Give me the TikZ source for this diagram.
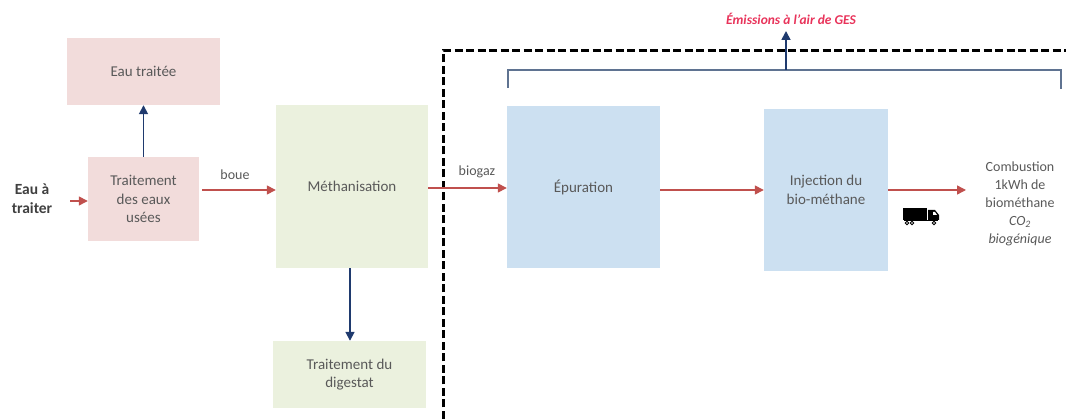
\documentclass[tikz,border=0pt]{standalone}
\usepackage{fontspec}
\setmainfont{Carlito}
\usetikzlibrary{arrows.meta}
\definecolor{pinkfill}{HTML}{F2DCDB}
\definecolor{greenfill}{HTML}{EBF1DE}
\definecolor{bluefill}{HTML}{CCE0F1}
\definecolor{redarrow}{HTML}{C0504D}
\definecolor{navyarrow}{HTML}{1F3A6E}
\definecolor{txtgray}{HTML}{595959}
\definecolor{brackcol}{HTML}{5F7391}
\definecolor{emiscol}{HTML}{E8335A}
\tikzset{
  box/.style={inner sep=0pt, align=center, text=txtgray, font=\fontsize{15}{18.5}\selectfont},
  pinkbox/.style={box, fill=pinkfill},
  greenbox/.style={box, fill=greenfill},
  bluebox/.style={box, fill=bluefill},
  lbl/.style={inner sep=0pt, align=center, text=txtgray, font=\fontsize{14}{18}\selectfont},
  redarr/.style={draw=redarrow, line width=1.4pt, -{Triangle[length=9pt,width=9pt]}},
  navyarr/.style={draw=navyarrow, line width=1.7pt, -{Triangle[length=9pt,width=9pt]}},
  boundary/.style={draw=black, line width=3pt, dash pattern=on 8pt off 3.5pt},
  bracket/.style={draw=brackcol, line width=1.4pt}
}
\begin{document}
\begin{tikzpicture}[x=1pt,y=-1pt]
\useasboundingbox (0,0) rectangle (1066,419);
% boxes
\node[pinkbox, minimum width=153pt, minimum height=67pt] (eautr) at (143.5,71.5) {Eau traitée};
\node[pinkbox, minimum width=111pt, minimum height=84pt] (trait) at (143.5,199) {Traitement\\des eaux\\usées};
\node[greenbox, minimum width=152pt, minimum height=163pt] (meth) at (352,186.5) {Méthanisation};
\node[greenbox, minimum width=153pt, minimum height=67pt] (dig) at (349.5,374.5) {Traitement du\\digestat};
\node[bluebox, minimum width=153pt, minimum height=162pt] (epur) at (583.5,187) {Épuration};
\node[bluebox, minimum width=124pt, minimum height=162pt] (inj) at (826,190) {Injection du\\bio-méthane};
% labels
\node[inner sep=0pt, align=center, text=black!75, font=\fontsize{15.5}{19}\selectfont\bfseries] (eat) at (32,199) {Eau à\\traiter};
\node[lbl] (boue) at (235,175) {boue};
\node[lbl] (biogaz) at (477,172) {biogaz};
\node[lbl] (comb) at (1020,204) {Combustion\\1kWh de\\biométhane\\{\itshape CO\textsubscript{2}}\\{\itshape biogénique}};
\node[inner sep=0pt, text=emiscol, font=\fontsize{13.5}{15}\selectfont\bfseries\itshape] (emis) at (791,19) {Émissions à l'air de GES};
% free ends
\coordinate (in0) at (70,201);
\coordinate (out0) at (966,190);
\coordinate (bl) at (508,88);
\coordinate (br) at (1061,89);
\coordinate (bm) at (786,70);
% boundary
\draw[boundary] (443,419) -- (443,51) -- (1066,51);
% bracket
\draw[bracket] (bl) -- (508,70) -- (1061,70) -- (br);
\draw[navyarr] (bm) -- (786,31);
% connectors
\draw[redarr] (in0) -- (trait.west |- in0);
\draw[redarr] (202,190) -- (meth.west |- 0,190);
\draw[navyarr] (trait.north) -- (eautr.south);
\draw[redarr] (meth.east |- 0,188) -- (epur.west |- 0,188);
\draw[navyarr] (meth.south -| 350,0) -- (dig.north -| 350,0);
\draw[redarr] (epur.east |- 0,190) -- (inj.west |- 0,190);
\draw[redarr] (inj.east |- out0) -- (out0);
% truck
\begin{scope}[shift={(903,208)}]
  \fill[black] (0,0) rectangle (24,12);
  \fill[black] (25,2) -- (32,2) -- (36,7) -- (36,12) -- (25,12) -- cycle;
  \fill[white] (30,4) -- (32,4) -- (34,7) -- (30,7) -- cycle;
  \fill[black] (1,12) rectangle (35,13.5);
  \foreach \wx in {4,9,31} {\filldraw[fill=white, draw=black, line width=0.8pt] (\wx,15) circle (1.8);}
\end{scope}
\end{tikzpicture}
\end{document}
